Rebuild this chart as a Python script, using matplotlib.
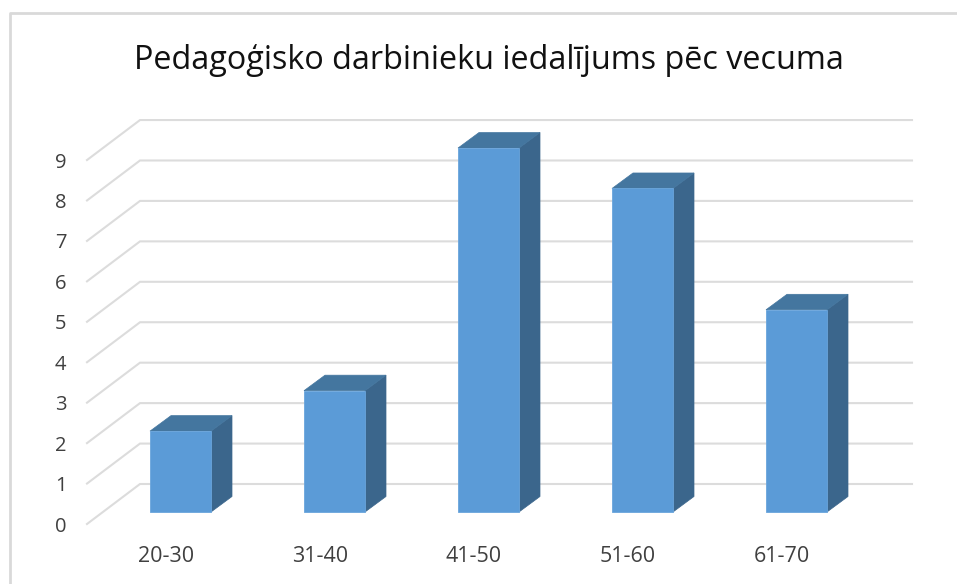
import matplotlib
matplotlib.use("Agg")
import matplotlib.pyplot as plt
from matplotlib.patches import Polygon

categories = ["20-30", "31-40", "41-50", "51-60", "61-70"]
values = [2, 3, 9, 8, 5]
ticks = list(range(10))
title = "Pedagoģisko darbinieku iedalījums pēc vecuma"

W, H = 957, 584
PX_X = 154.0          # pixels per category
PX_Y = 40.44          # pixels per unit value
sx = lambda px: px / PX_X
sy = lambda px: px / PX_Y

plt.rcParams["font.family"] = ["Open Sans", "DejaVu Sans"]
fig = plt.figure(figsize=(W / 100, H / 100), dpi=100, facecolor="white")
ax = fig.add_axes([0, 0, 1, 1])
ax.set_xlim(-180.5 / PX_X, (W - 180.5) / PX_X)
ax.set_ylim(-(H - 512) / PX_Y, 512 / PX_Y)
ax.axis("off")

# wall / floor gridlines, offset from the bar front plane
grid_front_x, grid_back_x, grid_right_x = sx(87 - 180.5), sx(140 - 180.5), sx(912 - 180.5)
grid_front_dy, grid_back_dy = sy(-12), sy(28)
grid_c = "#DCDCDC"
for v in ticks:
    ax.plot([grid_front_x, grid_back_x, grid_right_x],
            [v + grid_front_dy, v + grid_back_dy, v + grid_back_dy],
            color=grid_c, lw=1.5, solid_joinstyle="miter", zorder=1)
    ax.text(sx(60.5 - 180.5), v + sy(-14.5), str(v), ha="center", va="center",
            fontsize=14.5, color="#404040", zorder=5)

bw = sx(61) / 2
dx, dy = sx(21), sy(15.5)
for i, v in enumerate(values):
    l, r = i - bw, i + bw
    ax.add_patch(Polygon([(r, 0), (r + dx, dy), (r + dx, v + dy), (r, v)],
                         facecolor="#3B668C", edgecolor="#3B668C", lw=0.5, zorder=3))
    ax.add_patch(Polygon([(l, v), (r, v), (r + dx, v + dy), (l + dx, v + dy)],
                         facecolor="#44769F", edgecolor="#44769F", lw=0.5, zorder=3))
    ax.add_patch(Polygon([(l, 0), (r, 0), (r, v), (l, v)],
                         facecolor="#5B9BD7", edgecolor="#6AA5DC", lw=0.6, zorder=4))
    ax.text(i - sx(14.5), sy(-45), categories[i], ha="center", va="center",
            fontsize=15.5, color="#404040", zorder=5)

ax.text(sx(489 - 180.5), sy(512 - 60.5), title, ha="center", va="center",
        fontsize=23.3, color="#111111", zorder=5)

# outer frame of the chart area
ax.plot([sx(10 - 180.5), sx(10 - 180.5), sx(W - 180.5)],
        [sy(512 - H), sy(512 - 13), sy(512 - 13)], color="#D9D9D9", lw=2, zorder=1)

fig.savefig("out.png", dpi=100)
